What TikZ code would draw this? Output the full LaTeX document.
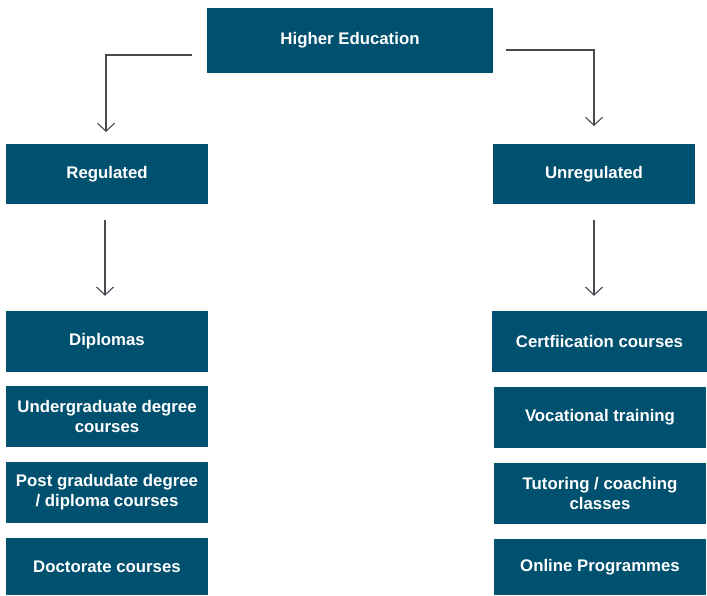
\documentclass[tikz,border=0pt]{standalone}
\usepackage{fontspec}
\setmainfont{Liberation Sans}
\usetikzlibrary{arrows.meta}
\definecolor{boxblue}{HTML}{00506F}
\definecolor{linegray}{HTML}{4A4A52}
\tikzset{
  box/.style={fill=boxblue, text=white, font=\bfseries\fontsize{16.8}{20}\selectfont, align=center, inner sep=0pt, minimum width=#1},
  box/.default=202pt,
  arr/.style={draw=linegray, line width=1.1pt, -{Straight Barb[length=8pt,width=17pt,line width=1.1pt]}}
}
\begin{document}
\begin{tikzpicture}[x=1pt,y=-1pt]
\useasboundingbox (0,0) rectangle (707,595);
\node[box=286pt, minimum height=65pt] (he) at (350,40.5) {Higher Education};
\node[box, minimum height=60pt] (reg) at (107,174) {Regulated};
\node[box, minimum height=60pt] (unreg) at (594,174) {Unregulated};
\node[box, minimum height=61pt] (dip) at (107,341.5) {Diplomas};
\node[box, minimum height=61pt] (ug) at (107,416.5) {Undergraduate degree\\courses};
\node[box, minimum height=61pt] (pg) at (107,492.5) {Post gradudate degree\\/ diploma courses};
\node[box, minimum height=57pt] (doc) at (107,566.5) {Doctorate courses};
\node[box=215pt, minimum height=61pt] (cert) at (599.5,341.5) {Certfiication courses};
\node[box=212pt, minimum height=61pt] (voc) at (600,417.5) {Vocational training};
\node[box=212pt, minimum height=61pt] (tut) at (600,493.5) {Tutoring / coaching\\classes};
\node[box=212pt, minimum height=56pt] (onl) at (600,567) {Online Programmes};
\coordinate (l1) at (192,55);
\coordinate (l2) at (106,132);
\coordinate (r1) at (506,50);
\coordinate (r2) at (594,126);
\draw[arr] (l1) -| (l2);
\draw[arr] (r1) -| (r2);
\draw[arr] ([yshift=-16pt]reg.south -| 105,0) -- ([yshift=15pt]dip.north -| 105,0);
\draw[arr] ([yshift=-16pt]unreg.south) -- ([yshift=15pt]unreg.south |- dip.north);
\end{tikzpicture}
\end{document}
